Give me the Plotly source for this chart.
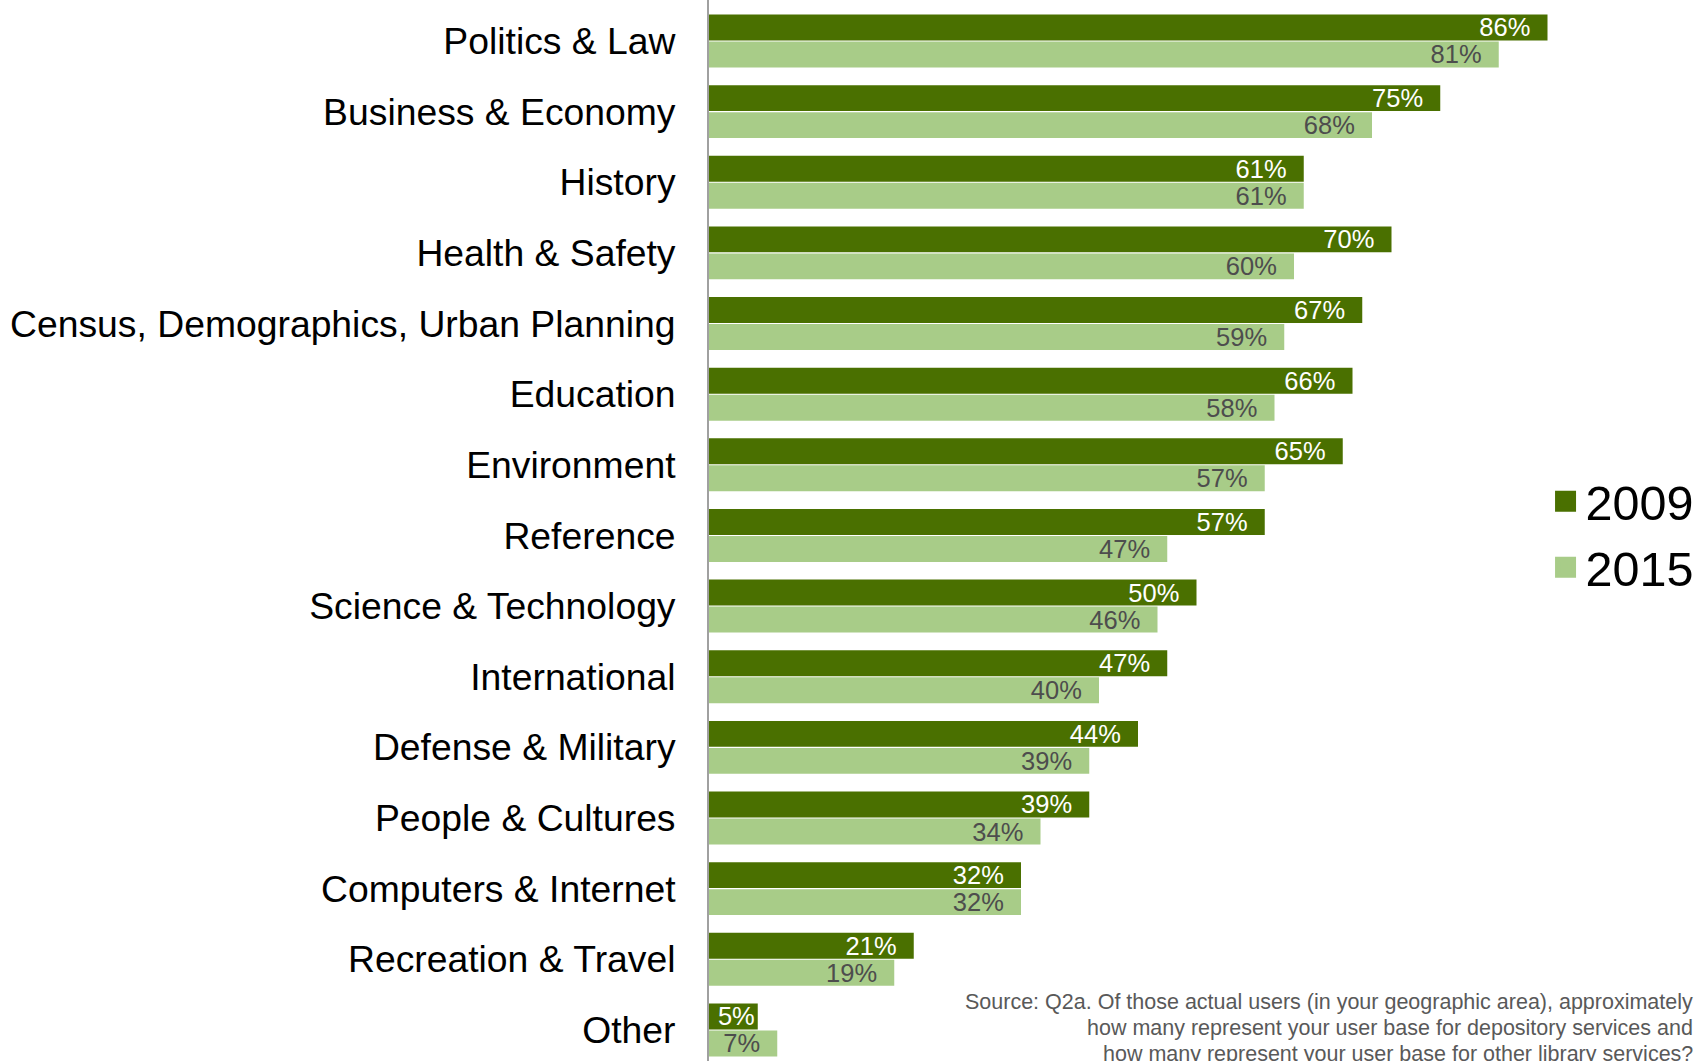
import plotly.graph_objects as go

categories = ["Politics & Law", "Business & Economy", "History", "Health & Safety",
              "Census, Demographics, Urban Planning", "Education", "Environment",
              "Reference", "Science & Technology", "International", "Defense & Military",
              "People & Cultures", "Computers & Internet", "Recreation & Travel", "Other"]
values_2009 = [86, 75, 61, 70, 67, 66, 65, 57, 50, 47, 44, 39, 32, 21, 5]
values_2015 = [81, 68, 61, 60, 59, 58, 57, 47, 46, 40, 39, 34, 32, 19, 7]
series_names = ["2009", "2015"]
colors = ["#4A7000", "#A8CC88"]
label_colors = ["#FFFFFF", "#4D4D4D"]
source_lines = ["Source: Q2a. Of those actual users (in your geographic area), approximately",
                "how many represent your user base for depository services and",
                "how many represent your user base for other library services?"]

NB = "\u00a0"


def label(v):
    # extra right padding inside the bar when there is room for it
    return f"{v}%{NB}{NB}" if v >= 6 else f"{v}%"


fig = go.Figure()
for name, vals, col, lcol in zip(series_names, [values_2009, values_2015], colors, label_colors):
    fig.add_trace(go.Bar(
        y=categories, x=vals, orientation="h", name=name,
        marker=dict(color=col, line=dict(width=0)),
        text=[label(v) for v in vals],
        textposition="inside", insidetextanchor="end", textangle=0,
        constraintext="none",
        textfont=dict(family="Liberation Sans, Arial", size=25.5, color=lcol),
        showlegend=False, hoverinfo="skip",
    ))
    # legend entry
    fig.add_trace(go.Scatter(
        x=[None], y=[None], mode="markers", name=name,
        marker=dict(symbol="square", size=16, color=col, line=dict(color=col, width=5)),
        showlegend=True,
    ))

fig.update_layout(
    width=1707, height=1061,
    margin=dict(l=709, r=23, t=0, b=0),
    paper_bgcolor="white", plot_bgcolor="white",
    barmode="group", bargap=0.235, bargroupgap=0.04,
    font=dict(family="Liberation Sans, Arial", color="#000000"),
    xaxis=dict(range=[0, 100], visible=False, showgrid=False, zeroline=False, fixedrange=True),
    yaxis=dict(
        categoryorder="array", categoryarray=categories,
        range=[14.44, -0.58],
        showgrid=False, zeroline=False, ticks="",
        showline=True, linecolor="#A0A0A0", linewidth=2,
        tickfont=dict(family="Liberation Sans, Arial", size=37.3, color="#000000"),
        ticklabelstandoff=24,
    ),
    legend=dict(
        x=0.858, xanchor="left", y=0.496, yanchor="middle",
        font=dict(family="Liberation Sans, Arial", size=48.5, color="#000000"),
        traceorder="normal", itemsizing="trace", bgcolor="rgba(0,0,0,0)",
        tracegroupgap=0,
    ),
    showlegend=True,
)

line_y = [1002, 1028, 1054]
for txt, py in zip(source_lines, line_y):
    fig.add_annotation(
        text=txt, xref="paper", yref="paper",
        x=1.0113, y=1 - py / 1061, xanchor="right", yanchor="middle",
        align="right", showarrow=False,
        font=dict(family="Liberation Sans, Arial", size=21.5, color="#595959"),
    )

fig.write_html("out.html")
